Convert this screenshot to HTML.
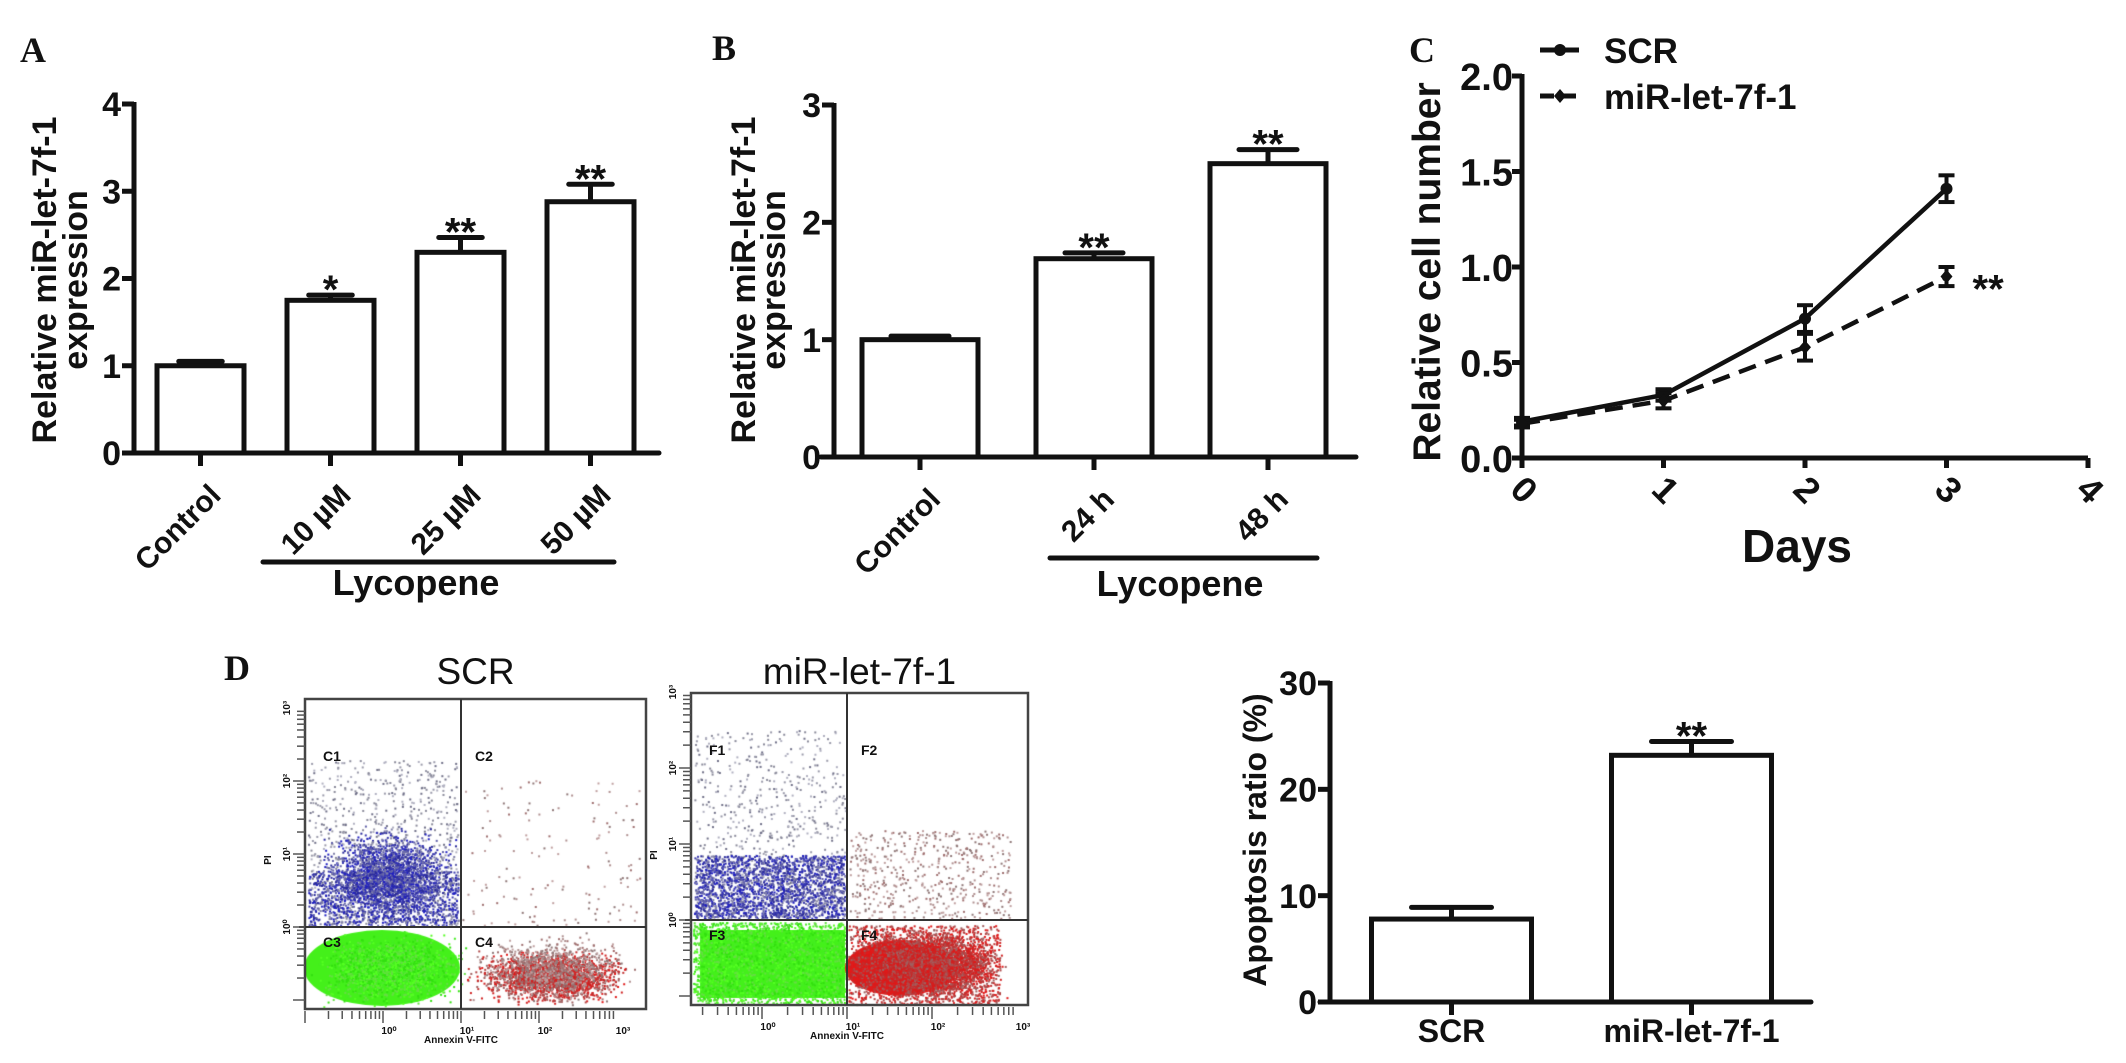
<!DOCTYPE html>
<html><head><meta charset="utf-8"><title>Lycopene miR-let-7f-1 figure</title>
<style>
html,body{margin:0;padding:0;background:#fff;}
#wrap{position:relative;width:2126px;height:1063px;overflow:hidden;background:#fff;}
canvas{position:absolute;left:0;top:0;}
svg{position:absolute;left:0;top:0;}
text{font-family:"Liberation Sans",Arial,sans-serif;font-weight:bold;fill:#111;}
.panel{font-family:"Liberation Serif",serif;font-weight:bold;}
</style></head>
<body>
<div id="wrap">
<canvas id="flow" width="2126" height="1063"></canvas>
<svg id="fig" width="2126" height="1063" viewBox="0 0 2126 1063"></svg>
</div>
<script>
// ---- Panel A data ----
const aCategories = ["Control", "10 µM", "25 µM", "50 µM"];
const aValues = [1.0, 1.75, 2.3, 2.88];
const aErrors = [0.05, 0.06, 0.17, 0.2];
const aStars = ["", "*", "**", "**"];
const aTicks = [0, 1, 2, 3, 4];
// ---- Panel B data ----
const bCategories = ["Control", "24 h", "48 h"];
const bValues = [1.0, 1.69, 2.5];
const bErrors = [0.03, 0.05, 0.12];
const bStars = ["", "**", "**"];
const bTicks = [0, 1, 2, 3];
// ---- Panel C data ----
const cDays = [0, 1, 2, 3];
const cScr = [0.19, 0.33, 0.73, 1.41];
const cScrErr = [0.02, 0.03, 0.07, 0.07];
const cMir = [0.18, 0.30, 0.58, 0.95];
const cMirErr = [0.02, 0.04, 0.07, 0.05];
const cYTicks = [0, 0.5, 1.0, 1.5, 2.0];
const cXTicks = [0, 1, 2, 3, 4];
// ---- Panel D data ----
const dCategories = ["SCR", "miR-let-7f-1"];
const dValues = [7.8, 23.2];
const dErrors = [1.1, 1.3];
const dStars = ["", "**"];
const dTicks = [0, 10, 20, 30];

const NS = "http://www.w3.org/2000/svg";
const svg = document.getElementById('fig');
function mk(tag, attrs, text) {
  const e = document.createElementNS(NS, tag);
  for (const k in attrs) e.setAttribute(k, attrs[k]);
  if (text !== undefined) e.textContent = text;
  svg.appendChild(e);
  return e;
}

function drawBars(p, cats, vals, errs, stars, ticks) {
  const tmin = ticks[0], tmax = ticks[ticks.length - 1];
  const yS = v => p.y0 - (v - tmin) / (tmax - tmin) * (p.y0 - p.yTop);
  const xS = i => p.c0 + i * p.step;
  let e;
  e = mk('line', {x1: p.ax, y1: p.yTop - 2, x2: p.ax, y2: p.y0 + 2, stroke: '#111', 'stroke-width': 5});
  
  
  e = mk('line', {x1: p.xa0, y1: p.y0, x2: p.xa1, y2: p.y0, stroke: '#111', 'stroke-width': 5, 'stroke-linecap': 'round'});
  
  
  ticks.forEach(t => {
    const y = yS(t);
    e = mk('line', {x1: p.ax - 12, y1: y, x2: p.ax, y2: y, stroke: '#111', 'stroke-width': 5});
    
    
    e = mk('text', {x: p.ax - 13, y: y + p.tfs * 0.36, 'text-anchor': 'end', 'font-size': p.tfs}, String(t));
    
    
  });
  cats.forEach((c, i) => {
    const cx = xS(i), top = yS(vals[i]), cap = yS(vals[i] + errs[i]);
    e = mk('line', {x1: cx, y1: top, x2: cx, y2: cap, stroke: '#111', 'stroke-width': 5});
    
    
    e = mk('line', {x1: cx - p.w / 4, y1: cap, x2: cx + p.w / 4, y2: cap, stroke: '#111', 'stroke-width': 5, 'stroke-linecap': 'round'});
    
    
    e = mk('rect', {x: cx - p.w / 2, y: top, width: p.w, height: p.y0 - top, fill: '#fff', stroke: '#111', 'stroke-width': 5});
    
    
    e = mk('line', {x1: cx, y1: p.y0, x2: cx, y2: p.y0 + 13, stroke: '#111', 'stroke-width': 5});
    
    
    if (stars[i]) {
      e = mk('text', {x: cx, y: cap + 8, 'text-anchor': 'middle', 'font-size': 40}, stars[i]);
      
      
    }
    if (p.rot) {
      const lx = cx + 22, ly = p.y0 + 44;
      e = mk('text', {x: lx, y: ly, 'text-anchor': 'end', 'font-size': p.lfs, transform: 'rotate(-45 ' + lx + ' ' + ly + ')'}, c);
    } else {
      e = mk('text', {x: cx, y: p.y0 + 40, 'text-anchor': 'middle', 'font-size': p.lfs}, c);
    }
    
    
  });
}

function txt(x, y, s, fs, name, extra) {
  const a = {x: x, y: y, 'font-size': fs};
  if (extra) for (const k in extra) a[k] = extra[k];
  const e = mk('text', a, s);
  
  
  return e;
}
function panelLabel(x, y, s, name) {
  return txt(x, y, s, 36, name, {class: 'panel'});
}

// ===== Panel A =====
panelLabel(20, 62, 'A', 'panel-a-label');
drawBars({id: 'a', ax: 134, y0: 453, yTop: 104, c0: 200.5, step: 130, w: 87, xa0: 125, xa1: 659, tfs: 34, lfs: 30, rot: true},
  aCategories, aValues, aErrors, aStars, aTicks);
txt(56, 280, 'Relative miR-let-7f-1', 34, 'a-y-axis-title', {'text-anchor': 'middle', transform: 'rotate(-90 56 280)'});
txt(87, 280, 'expression', 34, 'a-y-axis-title-line2', {'text-anchor': 'middle', transform: 'rotate(-90 87 280)'});
let ee = mk('line', {x1: 263, y1: 562, x2: 614, y2: 562, stroke: '#111', 'stroke-width': 5, 'stroke-linecap': 'round'});


txt(416, 595, 'Lycopene', 36, 'a-lycopene-label', {'text-anchor': 'middle'});

// ===== Panel B =====
panelLabel(712, 60, 'B', 'panel-b-label');
drawBars({id: 'b', ax: 834, y0: 457, yTop: 105, c0: 920, step: 174, w: 116, xa0: 821, xa1: 1356, tfs: 34, lfs: 30, rot: true},
  bCategories, bValues, bErrors, bStars, bTicks);
txt(755, 280, 'Relative miR-let-7f-1', 34, 'b-y-axis-title', {'text-anchor': 'middle', transform: 'rotate(-90 755 280)'});
txt(785, 280, 'expression', 34, 'b-y-axis-title-line2', {'text-anchor': 'middle', transform: 'rotate(-90 785 280)'});
ee = mk('line', {x1: 1050, y1: 558, x2: 1317, y2: 558, stroke: '#111', 'stroke-width': 5, 'stroke-linecap': 'round'});


txt(1180, 596, 'Lycopene', 36, 'b-lycopene-label', {'text-anchor': 'middle'});

// ===== Panel C =====
panelLabel(1409, 62, 'C', 'panel-c-label');
(function () {
  const x0 = 1522, dx = 141.5, y0 = 458, yTop = 76;
  const xS = d => x0 + d * dx;
  const yS = v => y0 - (v - cYTicks[0]) / (cYTicks[cYTicks.length - 1] - cYTicks[0]) * (y0 - yTop);
  let e;
  e = mk('line', {x1: x0, y1: yTop - 2, x2: x0, y2: y0 + 2, stroke: '#111', 'stroke-width': 5});
  
  
  e = mk('line', {x1: x0 - 10, y1: y0, x2: xS(cXTicks[cXTicks.length - 1]), y2: y0, stroke: '#111', 'stroke-width': 5});
  
  
  cYTicks.forEach(t => {
    const y = yS(t);
    e = mk('line', {x1: x0 - 10, y1: y, x2: x0, y2: y, stroke: '#111', 'stroke-width': 5});
    
    
    txt(x0 - 9, y + 14, t.toFixed(1), 38, 'c-y-tick-label', {'text-anchor': 'end'});
  });
  cXTicks.forEach(t => {
    const x = xS(t);
    e = mk('line', {x1: x, y1: y0, x2: x, y2: y0 + 10, stroke: '#111', 'stroke-width': 5});
    
    
    txt(x + 2, y0 + 44, String(t), 36, 'c-x-tick-label', {'text-anchor': 'middle', transform: 'rotate(45 ' + (x + 2) + ' ' + (y0 + 32) + ')'});
  });
  function series(vals, errs, dash, name, marker) {
    const pts = cDays.map((d, i) => xS(d) + ',' + yS(vals[i])).join(' ');
    const pl = mk('polyline', {points: pts, fill: 'none', stroke: '#111', 'stroke-width': 4.5, 'stroke-dasharray': dash});
    
    
    cDays.forEach((d, i) => {
      const x = xS(d), y1 = yS(vals[i] - errs[i]), y2 = yS(vals[i] + errs[i]);
      let q = mk('line', {x1: x, y1: y1, x2: x, y2: y2, stroke: '#111', 'stroke-width': 4});
      
      
      q = mk('line', {x1: x - 8, y1: y1, x2: x + 8, y2: y1, stroke: '#111', 'stroke-width': 4});
      
      
      q = mk('line', {x1: x - 8, y1: y2, x2: x + 8, y2: y2, stroke: '#111', 'stroke-width': 4});
      
      
      const y = yS(vals[i]);
      if (marker === 'circle') q = mk('circle', {cx: x, cy: y, r: 6, fill: '#111'});
      else q = mk('polygon', {points: (x) + ',' + (y - 7) + ' ' + (x + 6) + ',' + y + ' ' + x + ',' + (y + 7) + ' ' + (x - 6) + ',' + y, fill: '#111'});
      
      
    });
  }
  series(cScr, cScrErr, 'none', 'scr', 'circle');
  series(cMir, cMirErr, '18,10', 'mir', 'diamond');
  txt(xS(3) + 26, yS(cMir[3]) + 26, '**', 40, 'c-significance');
  txt(1797, 562, 'Days', 46, 'c-x-axis-title', {'text-anchor': 'middle'});
  txt(1440, 272, 'Relative  cell  number', 39, 'c-y-axis-title', {'text-anchor': 'middle', transform: 'rotate(-90 1440 272)'});
  e = mk('line', {x1: 1540, y1: 50, x2: 1579, y2: 50, stroke: '#111', 'stroke-width': 5});
  
  
  e = mk('circle', {cx: 1560, cy: 50, r: 6, fill: '#111'});
  
  
  txt(1604, 63, 'SCR', 35, 'legend-scr-label');
  e = mk('line', {x1: 1540, y1: 96, x2: 1579, y2: 96, stroke: '#111', 'stroke-width': 5, 'stroke-dasharray': '14,8'});
  
  
  e = mk('polygon', {points: '1560,89 1566,96 1560,103 1554,96', fill: '#111'});
  
  
  txt(1604, 109, 'miR-let-7f-1', 35, 'legend-mir-label');
})();

// ===== Panel D bars =====
panelLabel(224, 680, 'D', 'panel-d-label');
drawBars({id: 'd', ax: 1330, y0: 1002, yTop: 683, c0: 1451.5, step: 240, w: 160, xa0: 1320, xa1: 1811, tfs: 34, lfs: 32, rot: false},
  dCategories, dValues, dErrors, dStars, dTicks);
txt(1266, 840, 'Apoptosis ratio (%)', 32, 'd-y-axis-title', {'text-anchor': 'middle', transform: 'rotate(-90 1266 840)'});

// ===== Flow plots (frames, ticks, labels) =====
const plots = [
  {id: 'scr', title: 'SCR', q: ['C1', 'C2', 'C3', 'C4'], x0: 305, x1: 646, y0: 699, y1: 1009, vx: 461, hy: 927, xdec: 78, ydec: 73},
  {id: 'mir', title: 'miR-let-7f-1', q: ['F1', 'F2', 'F3', 'F4'], x0: 691, x1: 1028, y0: 693, y1: 1005, vx: 847, hy: 920, xdec: 85, ydec: 76}
];
const sup = ['10⁰', '10¹', '10²', '10³'];
plots.forEach(p => {
  const cx = (p.x0 + p.x1) / 2;
  txt(cx, 684, p.title, 37, p.id + '-flow-title', {'text-anchor': 'middle', style: 'font-weight:normal'});
  let e = mk('rect', {x: p.x0, y: p.y0, width: p.x1 - p.x0, height: p.y1 - p.y0, fill: 'none', stroke: '#444', 'stroke-width': 2.5});
  
  
  e = mk('line', {x1: p.vx, y1: p.y0, x2: p.vx, y2: p.y1, stroke: '#333', 'stroke-width': 2});
  
  
  e = mk('line', {x1: p.x0 - 6, y1: p.hy, x2: p.x1, y2: p.hy, stroke: '#333', 'stroke-width': 2});
  
  
  txt(p.x0 + 18, p.y0 + 62, p.q[0], 14, p.id + '-q1-label');
  txt(p.vx + 14, p.y0 + 62, p.q[1], 14, p.id + '-q2-label');
  txt(p.x0 + 18, p.hy + 20, p.q[2], 14, p.id + '-q3-label');
  txt(p.vx + 14, p.hy + 20, p.q[3], 14, p.id + '-q4-label');
  for (let d = -1; d < 3; d++) {
    for (let k = 1; k <= 9; k++) {
      const y = p.hy - (d + Math.log10(k)) * p.ydec;
      if (y < p.y0 || y > p.y1) continue;
      const len = k === 1 ? 12 : 8;
      e = mk('line', {x1: p.x0 - len, y1: y, x2: p.x0, y2: y, stroke: '#555', 'stroke-width': 1.5});
      
      
    }
  }
  for (let d = 0; d < 4; d++) {
    const y = p.hy - d * p.ydec;
    txt(p.x0 - 15, y, sup[d], 10, p.id + '-y-log-label', {'text-anchor': 'middle', transform: 'rotate(-90 ' + (p.x0 - 15) + ' ' + y + ')', fill: '#444'});
  }
  txt(p.x0 - 34, (p.y0 + p.y1) / 2 + 6, 'PI', 10, p.id + '-y-axis-title', {'text-anchor': 'middle', transform: 'rotate(-90 ' + (p.x0 - 34) + ' ' + ((p.y0 + p.y1) / 2 + 6) + ')', fill: '#444'});
  for (let d = -1; d < 3; d++) {
    for (let k = 1; k <= 9; k++) {
      const x = p.vx + (d - 1 + Math.log10(k)) * p.xdec;
      if (x < p.x0 || x > p.x1) continue;
      const len = k === 1 ? 14 : 10;
      e = mk('line', {x1: x, y1: p.y1 + 2, x2: x, y2: p.y1 + len, stroke: '#555', 'stroke-width': 1.5});
      
      
    }
  }
  for (let d = 0; d < 4; d++) {
    const x = p.vx + (d - 1) * p.xdec;
    txt(x + 6, p.y1 + 25, sup[d], 10, p.id + '-x-log-label', {'text-anchor': 'middle', fill: '#444'});
  }
  txt(p.vx, p.y1 + 34, 'Annexin V-FITC', 10, p.id + '-x-axis-title', {'text-anchor': 'middle', fill: '#444'});
});

// ===== Flow dots on canvas =====
(function () {
  const ctx = document.getElementById('flow').getContext('2d');
  let s = 12345;
  const rnd = () => { s = (s * 1664525 + 1013904223) % 4294967296; return s / 4294967296; };
  const g = () => (rnd() + rnd() + rnd()) / 3;
  function cloud(n, x0, x1, y0, y1, colors, sz) {
    for (let i = 0; i < n; i++) {
      const x = x0 + g() * (x1 - x0), y = y0 + g() * (y1 - y0);
      ctx.fillStyle = colors[Math.floor(rnd() * colors.length)];
      ctx.fillRect(x, y, sz, sz);
    }
  }
  function uni(n, x0, x1, y0, y1, colors, sz) {
    for (let i = 0; i < n; i++) {
      ctx.fillStyle = colors[Math.floor(rnd() * colors.length)];
      ctx.fillRect(x0 + rnd() * (x1 - x0), y0 + rnd() * (y1 - y0), sz, sz);
    }
  }
  const blue = ['#2a2a9a', '#3a3ab0', '#6060a8', '#8080a8', '#2020c0'];
  const grey = ['#8a8a9a', '#9a9aaa', '#707088', '#b0b0c0'];
  const red = ['#d02020', '#c03030', '#e01818', '#b04848', '#a06060'];
  const rgrey = ['#a07070', '#b09090', '#907878', '#c0a0a0'];
  const green = ['#44ee22', '#55ff22', '#66dd44', '#33e010'];
  uni(700, 308, 458, 760, 925, grey, 2);
  cloud(2200, 306, 470, 820, 930, blue, 2);
  uni(1200, 308, 458, 870, 925, blue, 2);
  ctx.fillStyle = '#44f01a';
  ctx.beginPath(); ctx.ellipse(382, 968, 78, 38, 0, 0, Math.PI * 2); ctx.fill();
  cloud(2500, 306, 470, 929, 1008, green, 2);
  uni(140, 462, 640, 780, 925, rgrey, 2);
  cloud(2200, 462, 640, 945, 1006, red, 2);
  cloud(800, 462, 640, 930, 1008, rgrey, 2);
  uni(600, 694, 845, 730, 918, grey, 2);
  uni(2200, 694, 845, 855, 918, blue, 2);
  ctx.fillStyle = '#44f01a';
  ctx.fillRect(700, 930, 145, 68);
  uni(2200, 693, 846, 922, 1003, green, 2);
  uni(500, 849, 1010, 830, 918, rgrey, 2);
  ctx.fillStyle = '#e01a1a';
  ctx.beginPath(); ctx.ellipse(900, 968, 55, 28, 0, 0, Math.PI * 2); ctx.fill();
  cloud(4000, 848, 1010, 925, 1005, red, 2);
  uni(1500, 848, 1000, 925, 1004, red, 2);
})();
</script>
</body></html>
